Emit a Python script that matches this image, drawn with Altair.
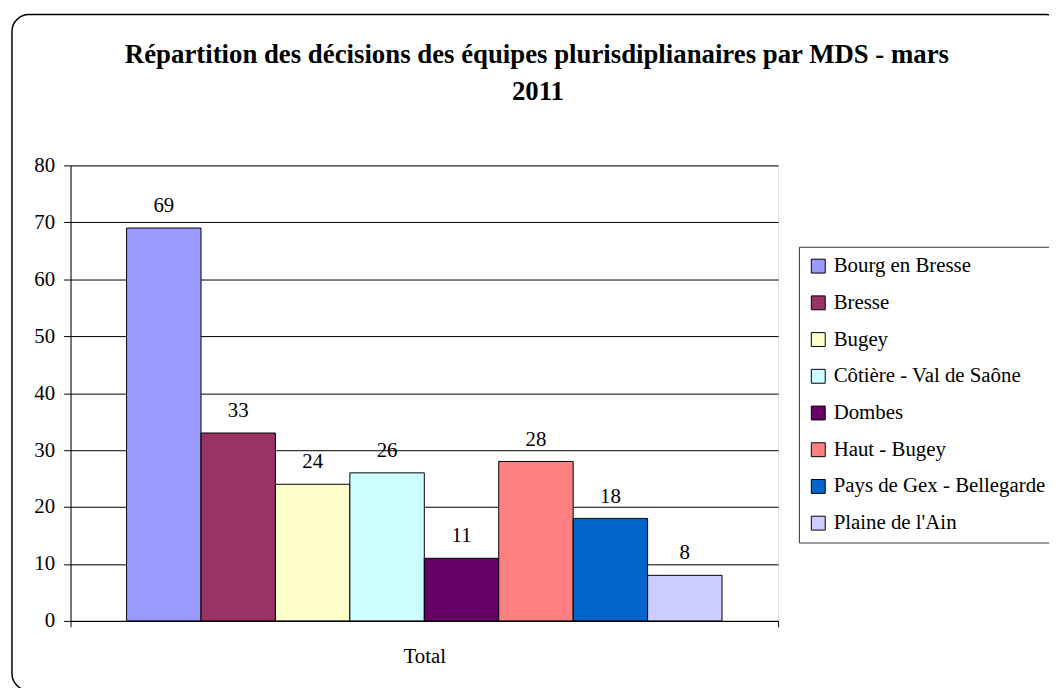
import altair as alt
import pandas as pd

series = ["Bourg en Bresse", "Bresse", "Bugey", "Côtière - Val de Saône",
          "Dombes", "Haut - Bugey", "Pays de Gex - Bellegarde", "Plaine de l'Ain"]
values = [69, 33, 24, 26, 11, 28, 18, 8]
colors = ["#9999FF", "#993366", "#FFFFCC", "#CCFFFF",
          "#660066", "#FF8080", "#0066CC", "#CCCCFF"]
category = "Total"
y_ticks = [0, 10, 20, 30, 40, 50, 60, 70, 80]
title_lines = ["Répartition des décisions des équipes plurisdiplianaires par MDS - mars", "2011"]

df = pd.DataFrame({"serie": series, "valeur": values, "cat": [category] * len(series)})

FONT = "Liberation Serif"

x_enc = alt.X("cat:N", title=None,
              scale=alt.Scale(paddingInner=0, paddingOuter=0),
              axis=alt.Axis(labelAngle=0, tickBand="extent", tickSize=6,
                            labelPadding=19, labelFontSize=21, domainColor="black",
                            tickColor="black", labelColor="black", labelFont=FONT))
xo_enc = alt.XOffset("serie:N", sort=series,
                     scale=alt.Scale(domain=series, paddingInner=0, paddingOuter=0.753))
y_enc = alt.Y("valeur:Q", title=None,
              scale=alt.Scale(domain=[0, 80], nice=False),
              axis=alt.Axis(values=y_ticks, grid=True, gridColor="black", gridOpacity=1,
                            tickSize=7, labelPadding=9, labelFontSize=21, labelFont=FONT,
                            labelColor="black", domainColor="black", tickColor="black"))

bars = alt.Chart(df).mark_bar(stroke="black", strokeWidth=1).encode(
    x=x_enc, xOffset=xo_enc, y=y_enc,
    color=alt.Color("serie:N", sort=series,
                    scale=alt.Scale(domain=series, range=colors),
                    legend=alt.Legend(title=None, orient="none", legendX=734, legendY=82,
                                      symbolType="square", symbolSize=196,
                                      symbolStrokeColor="black", symbolStrokeWidth=1,
                                      labelFont=FONT, labelFontSize=21, labelColor="black",
                                      labelLimit=400, labelOffset=5, rowPadding=15,
                                      padding=9, strokeColor="#333333",
                                      fillColor="white")),
)

labels = alt.Chart(df).mark_text(baseline="alphabetic", dy=-16, font=FONT,
                                 fontSize=21, color="black").encode(
    x=alt.X("cat:N"), xOffset=alt.XOffset("serie:N", sort=series), y="valeur:Q",
    text=alt.Text("valeur:Q"),
)

frame = alt.Chart(alt.Data(values=[{"a": 1}])).mark_rect(
    fill="white", fillOpacity=0, stroke="black", strokeWidth=1.5, cornerRadius=17
).encode(x=alt.value(-59), x2=alt.value(1000), y=alt.value(-152), y2=alt.value(529))

title1 = alt.Chart(alt.Data(values=[{"a": 1}])).mark_text(
    font=FONT, fontSize=27, fontWeight="bold", color="black",
    align="center", baseline="alphabetic"
).encode(x=alt.value(470), y=alt.value(-103), text=alt.value(title_lines[0]))
title2 = alt.Chart(alt.Data(values=[{"a": 1}])).mark_text(
    font=FONT, fontSize=27, fontWeight="bold", color="black",
    align="center", baseline="alphabetic"
).encode(x=alt.value(471), y=alt.value(-66), text=alt.value(title_lines[1]))

chart = alt.layer(frame, title1, title2, bars, labels).properties(
    width=713, height=459,
    autosize=alt.AutoSizeParams(type="none"),
    padding={"left": 63, "top": 156, "right": 273, "bottom": 65},
).configure_view(stroke="black", strokeWidth=1).configure(background="white")

chart.save("out.html", embed_options={"renderer": "svg", "actions": False})
